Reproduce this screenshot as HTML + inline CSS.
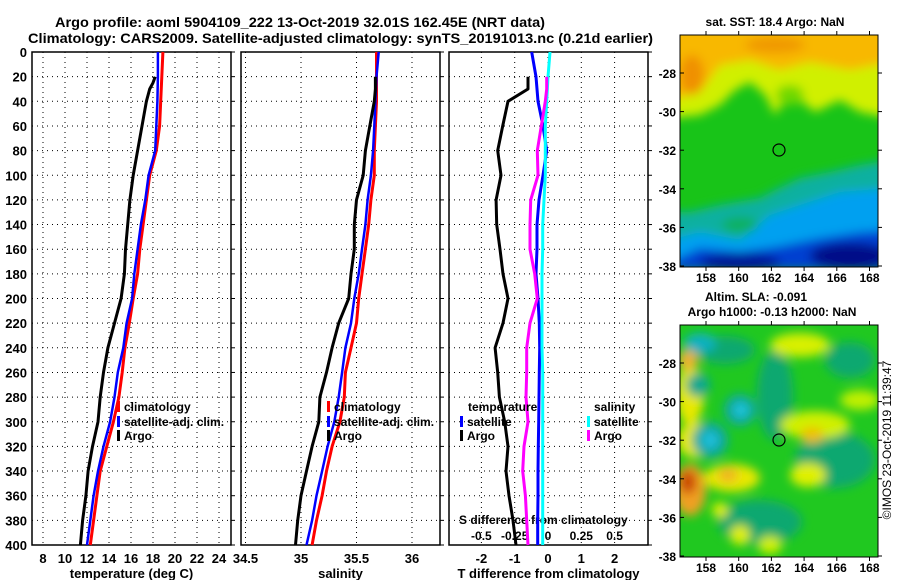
<!DOCTYPE html>
<html><head><meta charset="utf-8"><style>
body{margin:0;background:#fff;}
svg{display:block;font-family:"Liberation Sans",Arial,sans-serif;font-weight:bold;}
</style></head><body>
<svg id="fig" width="900" height="580" viewBox="0 0 900 580" xmlns="http://www.w3.org/2000/svg">
<defs>
<filter id="blur6" x="-50%" y="-50%" width="200%" height="200%"><feGaussianBlur stdDeviation="5"/></filter>
<clipPath id="clipTop"><rect x="680" y="35" width="198" height="232"/></clipPath>
<clipPath id="clipBot"><rect x="680" y="325" width="198" height="232"/></clipPath>
</defs>
<g font-size="14">
<text x="55" y="27" textLength="490" lengthAdjust="spacingAndGlyphs">Argo profile: aoml 5904109_222 13-Oct-2019 32.01S 162.45E (NRT data)</text>
<text x="28" y="43" textLength="625" lengthAdjust="spacingAndGlyphs">Climatology: CARS2009. Satellite-adjusted climatology: synTS_20191013.nc (0.21d earlier)</text>
</g>
<g id="panels"></g>
<!-- SST map -->
<g>
<g clip-path="url(#clipTop)">
<rect x="680" y="35" width="198" height="232" fill="#18c418"/>
<g filter="url(#blur6)">
<polygon points="670,25 890,25 890,118 860,112 840,100 815,112 800,100 790,92 775,115 765,95 750,82 735,90 720,105 700,115 670,118" fill="#d0f000"/>
<polygon points="670,25 890,25 890,62 850,70 810,62 780,70 750,60 720,65 700,92 670,100" fill="#f8b800"/>
<ellipse cx="692" cy="75" rx="12" ry="20" fill="#f09000"/>
<ellipse cx="775" cy="45" rx="30" ry="8" fill="#f09800"/>
<ellipse cx="790" cy="95" rx="14" ry="10" fill="#70d800"/>
<polygon points="690,212 720,205 760,198 775,190 800,178 830,172 860,165 890,160 890,270 670,270 670,212" fill="#10b0a0"/>
<polygon points="670,240 700,232 740,240 770,215 800,205 840,192 890,188 890,270 670,270" fill="#00a0f0"/>
<polygon points="670,262 700,248 740,252 780,246 820,238 860,232 890,230 890,270 670,270" fill="#0040d0"/>
<ellipse cx="740" cy="262" rx="40" ry="9" fill="#001898"/>
<ellipse cx="850" cy="256" rx="40" ry="13" fill="#000a88"/>
<ellipse cx="740" cy="225" rx="18" ry="8" fill="#10b060"/>
</g>
</g>
<rect x="680" y="35" width="198" height="232" fill="none" stroke="#000" stroke-width="1"/>
<circle cx="779" cy="150" r="6" fill="none" stroke="#000" stroke-width="1.2"/>
</g>
<!-- SLA map -->
<g>
<g clip-path="url(#clipBot)">
<rect x="680" y="325" width="198" height="232" fill="#20c820"/>
<g filter="url(#blur6)">
<ellipse cx="775" cy="395" rx="18" ry="45" fill="#10a870"/>
<ellipse cx="835" cy="460" rx="40" ry="28" fill="#10a870"/>
<ellipse cx="760" cy="522" rx="42" ry="22" fill="#10a870"/>
<ellipse cx="725" cy="350" rx="30" ry="14" fill="#10a870"/>
<ellipse cx="850" cy="360" rx="25" ry="18" fill="#10a870"/>
<ellipse cx="690" cy="395" rx="14" ry="30" fill="#e8e800"/>
<ellipse cx="688" cy="360" rx="10" ry="10" fill="#f0b030"/>
<ellipse cx="695" cy="440" rx="18" ry="18" fill="#e8e800"/>
<ellipse cx="690" cy="490" rx="16" ry="26" fill="#f0a020"/>
<ellipse cx="688" cy="482" rx="8" ry="12" fill="#c84000"/>
<ellipse cx="732" cy="478" rx="28" ry="14" fill="#e8e800"/>
<ellipse cx="728" cy="475" rx="10" ry="7" fill="#f0b020"/>
<ellipse cx="808" cy="475" rx="18" ry="12" fill="#e0f000"/>
<ellipse cx="815" cy="425" rx="35" ry="14" fill="#d0f000"/>
<ellipse cx="812" cy="435" rx="12" ry="8" fill="#f0c000"/>
<ellipse cx="800" cy="345" rx="30" ry="12" fill="#d8f000"/>
<ellipse cx="860" cy="400" rx="20" ry="10" fill="#c0f000"/>
<ellipse cx="700" cy="343" rx="16" ry="10" fill="#10b0c0"/>
<ellipse cx="698" cy="385" rx="12" ry="12" fill="#10a890"/>
<ellipse cx="710" cy="440" rx="18" ry="18" fill="#10a8a0"/>
<ellipse cx="710" cy="440" rx="8" ry="8" fill="#20c0e0"/>
<ellipse cx="740" cy="410" rx="16" ry="16" fill="#10a8a0"/>
<ellipse cx="741" cy="410" rx="7" ry="7" fill="#20c8e0"/>
<ellipse cx="740" cy="535" rx="10" ry="10" fill="#e0f000"/>
<ellipse cx="770" cy="545" rx="12" ry="9" fill="#d0f000"/>
<ellipse cx="720" cy="510" rx="8" ry="8" fill="#e0f000"/>
</g>
</g>
<rect x="680" y="325" width="198" height="232" fill="none" stroke="#000" stroke-width="1"/>
<circle cx="779" cy="440" r="6" fill="none" stroke="#000" stroke-width="1.2"/>
</g>
<g font-size="12" text-anchor="middle">
<text x="775" y="26">sat. SST: 18.4 Argo: NaN</text>
<text x="756" y="301">Altim. SLA: -0.091</text>
<text x="772" y="316">Argo h1000: -0.13 h2000: NaN</text>
</g>
<text font-size="12" font-weight="normal" text-anchor="middle" transform="translate(891,440) rotate(-90)">©IMOS 23-Oct-2019 11:39:47</text>
<g id="mapaxes" font-size="12"></g>
</svg>
<script>
// ---------- data ----------
const depths = [0,20,40,60,80,100,120,140,160,180,200,220,240,260,280,300,320,340,360,380,400];
const tempClim = [18.9,18.8,18.7,18.6,18.3,17.7,17.4,17.1,16.8,16.6,16.2,15.85,15.45,15.2,14.9,14.4,13.8,13.2,12.9,12.6,12.3];
const tempSat  = [18.45,18.45,18.4,18.3,18.2,17.6,17.3,16.9,16.6,16.3,16.1,15.6,15.3,14.8,14.5,14.1,13.5,13.0,12.6,12.3,12.0];
const argoDepths = [20,25,30,40,60,80,100,120,140,160,180,200,220,240,260,280,300,320,340,360,380,400];
const tempArgo = [18.2,18.0,17.7,17.4,17.0,16.6,16.2,15.9,15.7,15.5,15.4,15.1,14.5,13.9,13.5,13.2,13.0,12.5,12.1,11.9,11.6,11.4];
const salClim = [35.68,35.68,35.68,35.67,35.66,35.66,35.63,35.61,35.58,35.55,35.52,35.5,35.45,35.4,35.39,35.35,35.28,35.23,35.19,35.14,35.10];
const salSat  = [35.70,35.68,35.67,35.66,35.65,35.63,35.60,35.58,35.55,35.52,35.48,35.45,35.40,35.37,35.34,35.30,35.24,35.19,35.14,35.10,35.05];
const salArgo = [35.67,35.67,35.67,35.66,35.62,35.58,35.56,35.5,35.48,35.48,35.45,35.43,35.34,35.28,35.23,35.17,35.16,35.1,35.05,35.0,34.97,34.95];
const tDiffArgo = [-0.6,-0.6,-0.6,-1.2,-1.36,-1.51,-1.41,-1.56,-1.54,-1.44,-1.35,-1.2,-1.35,-1.59,-1.51,-1.46,-1.3,-1.2,-1.26,-1.17,-1.05,-0.96];
const tDiffSat = [-0.49,-0.36,-0.3,-0.15,-0.04,-0.15,-0.27,-0.33,-0.33,-0.36,-0.3,-0.26,-0.25,-0.26,-0.27,-0.28,-0.29,-0.3,-0.3,-0.31,-0.31];
const sDiffSat = [0.015,0,-0.01,-0.02,-0.02,-0.02,-0.03,-0.04,-0.04,-0.045,-0.045,-0.045,-0.045,-0.04,-0.04,-0.04,-0.04,-0.04,-0.04,-0.04,-0.04];
const sDiffArgo = [-0.01,-0.01,-0.01,-0.02,-0.05,-0.08,-0.075,-0.13,-0.135,-0.135,-0.1,-0.08,-0.135,-0.16,-0.16,-0.165,-0.15,-0.18,-0.19,-0.17,-0.16,-0.15];
const depthTicks = [0,20,40,60,80,100,120,140,160,180,200,220,240,260,280,300,320,340,360,380,400];
const tTicks = [8,10,12,14,16,18,20,22,24];
const sTicks = [34.5,35,35.5,36];
const dtTicks = [-2,-1,0,1,2];
const dsTicks = [-0.5,-0.25,0,0.25,0.5];
const lonTicks = [158,160,162,164,166,168];
const latTicks = [-28,-30,-32,-34,-36,-38];

// ---------- scales ----------
const Y0=52, Y1=545;
const yD = d => Y0 + d*(Y1-Y0)/400;
const xT = t => 43 + (t-8)*11;
const xS = s => 301 + (s-35)*111;
const xDT = v => 548 + v*33.3;
const xDS = v => 548 + v*133.2;
const lonX = lo => 706 + (lo-158)*16.35;
const latYTop = la => 73 + (-28-la)*19.3;
const latYBot = la => 363 + (-28-la)*19.3;

const NS="http://www.w3.org/2000/svg";
const root=document.getElementById('panels');
function mk(tag, attrs, parent){const e=document.createElementNS(NS,tag);for(const k in attrs)e.setAttribute(k,attrs[k]);(parent||root).appendChild(e);return e;}
function txt(x,y,s,anchor,size,parent){const e=mk('text',{x:x,y:y,'text-anchor':anchor||'start','font-size':size||13},parent);e.textContent=s;return e;}

function panel(name,x0,x1,xTicksArr,xf,fmt,xlabel,leftLabels){
  const g=mk('g',{});
  
  
  depthTicks.forEach(d=>{ if(d>0&&d<400) mk('line',{x1:x0,x2:x1,y1:yD(d),y2:yD(d),stroke:'#000','stroke-width':1,'stroke-dasharray':'1,4'},g);
    mk('line',{x1:x1,x2:x1+4,y1:yD(d),y2:yD(d),stroke:'#000'},g);});
  xTicksArr.forEach(t=>{const x=xf(t); if(x>x0+1&&x<x1-1) mk('line',{x1:x,x2:x,y1:Y0,y2:Y1,stroke:'#000','stroke-width':1,'stroke-dasharray':'1,4'},g);
    if(fmt){const l=txt(x,563,fmt(t),'middle',13,g); }});
  if(leftLabels) depthTicks.forEach(d=>{const l=txt(27,yD(d)+5,String(d),'end',13,g); });
  mk('rect',{x:x0,y:Y0,width:x1-x0,height:Y1-Y0,fill:'none',stroke:'#000','stroke-width':1.5},g);
  if(xlabel){const l=txt((x0+x1)/2,578,xlabel,'middle',13,g); }
  return g;
}
function line(g,xs,ds,xf,color,w,name){
  const pts=ds.map((d,i)=>xf(xs[i]).toFixed(1)+','+yD(d).toFixed(1)).join(' ');
  const p=mk('polyline',{points:pts,fill:'none',stroke:color,'stroke-width':w,'stroke-linejoin':'round'},g);
  
  
}
function legend(g,x,y,color,label){
  mk('rect',{x:x,y:y-10,width:3,height:11,fill:color},g);
  const t=txt(x+7,y,label,'start',12,g);
  
}
// Panel 1
const g1=panel('temperature-panel',32,231,tTicks,xT,v=>String(v),'temperature (deg C)',true);
line(g1,tempClim,depths,xT,'#f00',3,'temp-climatology-line');
line(g1,tempSat,depths,xT,'#00f',2.5,'temp-satellite-line');
line(g1,tempArgo,argoDepths,xT,'#000',3,'temp-argo-line');
legend(g1,117,411,'#f00','climatology');
legend(g1,117,426,'#00f','satellite-adj. clim.');
legend(g1,117,440,'#000','Argo');
// Panel 2
const g2=panel('salinity-panel',241,440,sTicks,xS,v=>String(v),'salinity',false);
line(g2,salClim,depths,xS,'#f00',3,'sal-climatology-line');
line(g2,salSat,depths,xS,'#00f',2.5,'sal-satellite-line');
line(g2,salArgo,argoDepths,xS,'#000',3,'sal-argo-line');
legend(g2,327,411,'#f00','climatology');
legend(g2,327,426,'#00f','satellite-adj. clim.');
legend(g2,327,440,'#000','Argo');
// Panel 3
const g3=panel('difference-panel',449,648,dtTicks,xDT,v=>String(v),'T difference from climatology',false);
dsTicks.forEach(v=>{const l=txt(xDS(v),540,String(v),'middle',12,g3); });
{const l=txt(459,524,'S difference from climatology','start',12,g3); }
line(g3,tDiffArgo,argoDepths,xDT,'#000',3,'tdiff-argo-line');
line(g3,tDiffSat,depths,xDT,'#00f',3,'tdiff-satellite-line');
line(g3,sDiffSat,depths,xDS,'#0ff',3,'sdiff-satellite-line');
line(g3,sDiffArgo,argoDepths,xDS,'#f0f',3,'sdiff-argo-line');
{const t=txt(468,411,'temperature','start',12,g3); }
legend(g3,460,426,'#00f','satellite');
legend(g3,460,440,'#000','Argo');
{const t=txt(594,411,'salinity','start',12,g3); }
legend(g3,587,426,'#0ff','satellite');
legend(g3,587,440,'#f0f','Argo');

// map axes
const ma=document.getElementById('mapaxes');
[[latYTop,35,267,282],[latYBot,325,557,572]].forEach(([lf,top,bot,ly])=>{
  latTicks.forEach(la=>{const y=lf(la);
    mk('line',{x1:680,x2:684,y1:y,y2:y,stroke:'#000'},ma);
    mk('line',{x1:878,x2:882,y1:y,y2:y,stroke:'#000'},ma);
    const t=txt(676,y+5,String(la),'end',12,ma); });
  lonTicks.forEach(lo=>{const x=lonX(lo);
    mk('line',{x1:x,x2:x,y1:top-4,y2:top,stroke:'#000'},ma);
    mk('line',{x1:x,x2:x,y1:bot,y2:bot+4,stroke:'#000'},ma);
    const t=txt(x,ly,String(lo),'middle',12,ma); });
});
</script>
</body></html>
